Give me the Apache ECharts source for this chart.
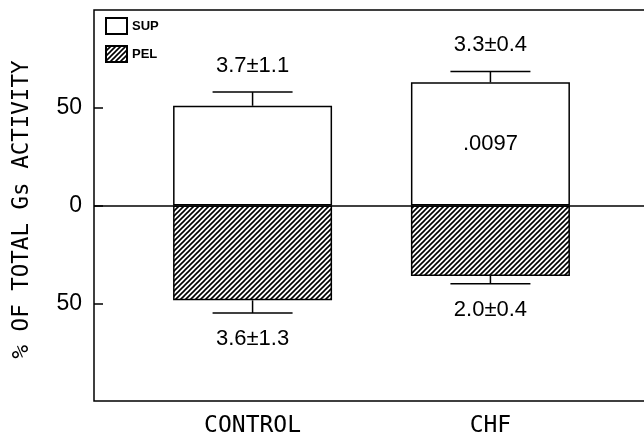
<!DOCTYPE html>
<html><head><meta charset="utf-8">
<script src="https://cdn.jsdelivr.net/npm/echarts@6/dist/echarts.min.js"></script>
<style>html,body{margin:0;padding:0;background:#fff}#c{width:644px;height:435px}</style>
</head><body><div id="c"></div>
<script>
// ---- data ----
const categories = ['CONTROL', 'CHF'];
const supValues = [51, 63];
const supErrors = [7, 5.6];
const pelValues = [48.5, 36];
const pelErrors = [6.5, 4];
const supNotes = ['3.7±1.1', '3.3±0.4'];
const pelNotes = ['3.6±1.3', '2.0±0.4'];
const pNotes = ['', '.0097'];
const yTickValues = [-50, 0, 50];
const xPositions = categories.map((c, i) => i + 1);

const NOTE_FONT = '"Liberation Sans Narrow", "Liberation Sans", Arial, sans-serif';

// "/" hatch tile
function makeHatch(s, w) {
  const cv = document.createElement('canvas');
  cv.width = s; cv.height = s;
  const ctx = cv.getContext('2d');
  ctx.fillStyle = '#fff'; ctx.fillRect(0, 0, s, s);
  ctx.strokeStyle = '#000'; ctx.lineWidth = w; ctx.lineCap = 'square';
  [0, s, 2 * s].forEach(c => {
    ctx.beginPath(); ctx.moveTo(-2, c + 2); ctx.lineTo(s + 2, c - s - 2); ctx.stroke();
  });
  return cv;
}
const hatchFill = { image: makeHatch(5, 1.6), repeat: 'repeat' };

function errRender(notes, sign, withP) {
  return function (params, api) {
    const i = params.dataIndex;
    const x = api.value(0), v = api.value(1), e = api.value(2);
    const base = api.coord([x, v]);
    const tip = api.coord([x, v + sign * e]);
    const half = 40;
    const children = [
      { type: 'line', shape: { x1: base[0], y1: base[1], x2: tip[0], y2: tip[1] }, style: { stroke: '#000', lineWidth: 1.5 } },
      { type: 'line', shape: { x1: tip[0] - half, y1: tip[1], x2: tip[0] + half, y2: tip[1] }, style: { stroke: '#000', lineWidth: 1.5 } },
      { type: 'text', style: { text: notes[i], x: tip[0], y: tip[1] - sign * 26, align: 'center', verticalAlign: 'middle', fontSize: 22, fontFamily: NOTE_FONT, fill: '#000' } }
    ];
    if (withP && pNotes[i]) {
      const mid = api.coord([x, v / 2]);
      children.push({ type: 'text', style: { text: pNotes[i], x: mid[0], y: mid[1], align: 'center', verticalAlign: 'middle', fontSize: 22, fontFamily: NOTE_FONT, fill: '#000' } });
    }
    return { type: 'group', children };
  };
}

const chart = echarts.init(document.getElementById('c'), null, { renderer: 'canvas' });
chart.setOption({
  animation: false,
  backgroundColor: '#fff',
  grid: { left: 94, top: 10, right: -10, bottom: 34, outerBoundsMode: 'none', show: true, borderColor: '#000', borderWidth: 1.5, backgroundColor: 'transparent' },
  legend: {
    data: ['SUP', 'PEL'], orient: 'vertical', left: 100, top: 12,
    itemWidth: 21, itemHeight: 16, itemGap: 10, icon: 'rect',
    textStyle: { fontSize: 13, fontWeight: 'bold', fontFamily: NOTE_FONT, color: '#000' },
    selectedMode: false
  },
  xAxis: {
    type: 'value', min: 1 / 3, max: 8 / 3 + 5 / 238,
    axisLine: { show: false }, axisTick: { show: false }, splitLine: { show: false },
    axisLabel: {
      customValues: xPositions, formatter: v => categories[Math.round(v) - 1],
      margin: 14, fontSize: 23, fontFamily: '"DejaVu Sans Mono", monospace', color: '#000'
    }
  },
  yAxis: {
    type: 'value', min: -100, max: 100,
    name: '% OF TOTAL Gs ACTIVITY', nameLocation: 'middle', nameRotate: 90, nameGap: 60,
    nameTextStyle: { fontSize: 22.5, fontFamily: '"DejaVu Sans Mono", monospace', color: '#000', padding: [0, 8, 0, 0] },
    axisLine: { show: false }, splitLine: { show: false },
    axisTick: { show: true, inside: true, length: 9, customValues: yTickValues, lineStyle: { color: '#000', width: 1.5 } },
    axisLabel: { customValues: yTickValues, formatter: v => String(Math.abs(v)), margin: 12, fontSize: 23, fontFamily: '"Liberation Sans", Arial, sans-serif', color: '#000' }
  },
  series: [
    {
      name: 'SUP', type: 'bar', stack: 'g', barWidth: 159,
      data: xPositions.map((x, i) => [x, supValues[i]]),
      itemStyle: { color: '#fff', borderColor: '#000', borderWidth: 1.5 },
      markLine: { silent: true, symbol: 'none', label: { show: false }, lineStyle: { color: '#000', width: 1.5, type: 'solid' }, data: [{ yAxis: 0 }] },
      z: 2
    },
    {
      name: 'PEL', type: 'bar', stack: 'g', barWidth: 159,
      data: xPositions.map((x, i) => [x, -pelValues[i]]),
      itemStyle: { color: hatchFill, borderColor: '#000', borderWidth: 1.5 },
      z: 2
    },
    {
      type: 'custom', renderItem: errRender(supNotes, 1, true),
      data: xPositions.map((x, i) => [x, supValues[i], supErrors[i]]), z: 3
    },
    {
      type: 'custom', renderItem: errRender(pelNotes, -1, false),
      data: xPositions.map((x, i) => [x, -pelValues[i], pelErrors[i]]), z: 3
    }
  ]
});
</script>
</body></html>
